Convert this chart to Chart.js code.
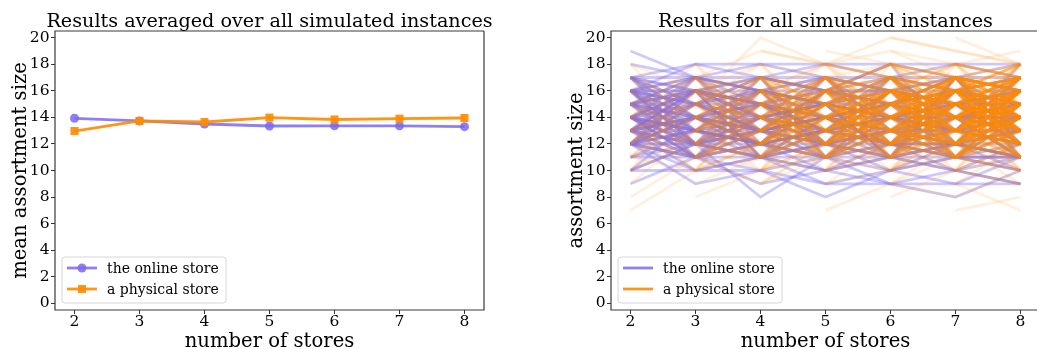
<!DOCTYPE html>
<html>
<head>
<meta charset="utf-8">
<script src="https://cdn.jsdelivr.net/npm/chart.js@4.4.1/dist/chart.umd.min.js"></script>
<style>
  html, body { margin: 0; padding: 0; background: #fff; overflow: hidden; }
  #wrap { position: relative; width: 1037px; height: 349px; overflow: hidden; }
  canvas { position: absolute; top: 0; }
  #left { left: 0; }
  #right { left: 530px; }
</style>
</head>
<body>
<div id="wrap">
  <canvas id="left" width="530" height="349"></canvas>
  <canvas id="right" width="530" height="349"></canvas>
</div>
<script>
/* ─── Data ───────────────────────────────────────────── */

const _ = null; // store not present for this number of stores

const storeCounts = [2, 3, 4, 5, 6, 7, 8];
const yTicks = [0, 2, 4, 6, 8, 10, 12, 14, 16, 18, 20];

// averaged results (left panel)
const meanOnline   = [13.93, 13.73, 13.50, 13.35, 13.36, 13.36, 13.30];
const meanPhysical = [12.97, 13.73, 13.65, 13.98, 13.84, 13.90, 13.95];

// every simulated instance (right panel), one row per instance
const onlineRuns = [
  [19, 17, 16, 15, 14, 13, 14], [17, 18, 18, 18, 18, 18, 18], [17, 16, 15, 16, 15, 16, 15], [17, 15, 13, 14, 13, 12, 11],
  [16, 17, 16, 15, 17, 16, 16], [16, 14, 13, 12, 11, 12, 11], [16, 16, 16, 16, 16, 16, 17], [16, 13, 12, 13, 14, 13, 12],
  [15, 14, 15, 13, 14, 15, 14], [15, 12, 11, 12, 13, 12, 13], [15, 17, 16, 17, 16, 15, 16], [14, 13, 14, 13, 12, 13, 13],
  [14, 15, 14, 15, 14, 14, 15], [14, 11, 12, 11, 12, 11, 11], [14, 16, 17, 16, 15, 17, 16], [13, 14, 13, 14, 13, 14, 14],
  [13, 12, 14, 12, 13, 13, 12], [13, 11, 10, 11, 10, 11, 10], [13, 15, 13, 14, 15, 14, 13], [12, 13, 12, 11, 12, 11, 12],
  [12, 10, 11, 10, 11, 10, 11], [12, 14, 15, 14, 13, 14, 14], [12, 11,  9, 10,  9, 10,  9], [12, 13, 12, 13, 12, 12, 13],
  [10, 10, 10,  9,  9,  9,  9], [10, 12, 11, 12, 10, 12, 11], [ 9, 11, 12, 13, 14, 13, 14], [17, 14, 12, 13, 12, 12, 13],
  [16, 12, 13, 14, 12, 14, 15], [15, 13, 12, 10, 11, 12, 10], [14, 12, 13, 12, 14, 13, 12], [13, 16, 14, 15, 16, 15, 14],
  [12, 15, 16, 15, 14, 16, 15], [17, 17, 17, 17, 17, 17, 17], [13, 13, 13, 13, 13, 13, 13], [14, 14, 14, 14, 14, 14, 14],
  [12, 12, 12, 12, 12, 12, 12], [16, 15, 17, 16, 17, 16, 17], [11, 12, 11,  9, 10,  9, 11], [15, 16, 14, 12, 11, 10, 12],
  [13, 10, 11, 10, 12, 10,  9], [14, 12,  8, 11,  9,  8, 10], [12,  9, 10,  8, 10, 11, 10], [18, 17, 16, 17, 16, 17, 18],
  [16, 18, 17, 16, 18, 17, 16], [15, 15, 15, 15, 15, 15, 15], [16, 16, 15, 16, 16, 15, 16], [13, 14, 15, 14, 13, 12, 11],
  [14, 13, 12, 13, 14, 15, 15], [12, 12, 13, 12, 11, 12, 11], [17, 16, 17, 18, 17, 18, 17], [15, 14, 13, 14, 15, 14, 15],
  [13, 12, 11, 12, 13, 14, 13], [14, 15, 16, 15, 16, 15, 14], [16, 17, 18, 17, 16, 17, 16], [12, 11, 12, 13, 12, 11, 11],
  [15, 16, 15, 14, 15, 16, 15], [11, 11, 11, 11, 11, 11, 11], [14, 13, 14, 15, 14, 13, 14], [10, 12, 14, 13, 12, 13, 12],
  [13, 14, 12, 11, 13, 12, 14], [16, 15, 14, 15, 14, 15, 13], [12, 14, 13, 14, 15, 14, 15], [17, 12, 15, 13, 16, 12, 14],
  [12, 16, 13, 17, 12, 15, 13], [14, 11, 16, 12, 15, 17, 12], [16, 12, 14, 17, 13, 11, 15], [13, 17, 12, 15, 11, 16, 14],
  [15, 11, 13, 16, 14, 12, 17], [14, 16, 11, 13, 17, 14, 11], [12, 15, 17, 12, 14, 16, 13], [16, 13, 11, 14, 12, 15, 16],
  [13, 16, 14, 11, 15, 13, 17], [15, 12, 16, 14, 11, 17, 12], [17, 14, 12, 16, 15, 11, 14], [12, 17, 15, 13, 16, 14, 11],
  [14, 12, 17, 11, 13, 16, 15], [16, 11, 15, 12, 17, 13, 16], [13, 15, 12, 17, 14, 11, 13], [15, 17, 14, 12, 16, 13, 18],
  [12, 14, 16, 15, 11, 17, 14], [14, 11, 13, 16, 18, 12, 15], [17, 13, 16, 11, 14, 15, 12], [13, 12, 15, 17, 13, 16, 11],
  [16, 14, 12, 15, 11, 14, 17], [12, 13, 16, 14, 17, 12, 16], [15, 16, 11, 13, 15, 17, 13], [14, 17, 13, 12, 16, 11, 15],
  [10, 14, 12, 16, 13, 15, 12], [13, 11, 14, 15, 12, 16, 14], [16, 15, 13, 11, 14, 12, 16], [12, 16, 11, 14, 15, 13, 17],
  [15, 13, 17, 16, 12, 14, 11], [11, 13, 15, 12, 16, 14, 13], [14, 16, 15, 13, 11, 15, 12], [13, 14, 11, 16, 15, 12, 16],
  [17, 15, 13, 14, 12, 16, 13], [12, 11, 14, 13, 16, 15, 12], [15, 14, 16, 12, 13, 11, 14], [14, 13, 12, 15, 17, 14, 16],
  [16, 12, 13, 16, 14, 13, 15], [13, 16, 15, 14, 12, 17, 11], [12, 14, 13, 11, 15, 16, 14],
];

const physicalRuns = [
  // stores present from 2 on
  [18, 16, 17, 15, 16, 17, 16], [ 7, 10, 12, 11, 13, 12, 14], [ 8, 11,  9, 12, 10, 13, 12], [11, 13, 15, 14, 16, 15, 17],
  [12, 14, 13, 16, 15, 14, 16], [13, 12, 14, 13, 15, 16, 15], [14, 16, 15, 17, 16, 14, 15], [15, 13, 16, 14, 17, 15, 16],
  [16, 17, 19, 18, 17, 16, 17], [10, 12, 11, 13, 12, 14, 13], [11, 14, 12, 15, 13, 12, 14], [13, 15, 17, 16, 18, 17, 16],
  [12, 11, 13, 12, 14, 13, 12], [17, 15, 14, 16, 15, 17, 18], [14, 12, 13, 15, 14, 16, 14], [15, 17, 14, 13, 16, 15, 17],
  [13, 14, 16, 15, 13, 14, 16], [12, 15, 14, 12, 14, 16, 13], [16, 14, 12, 14, 13, 15, 17], [11, 10, 12, 14, 15, 13, 15],
  [14, 15, 13, 14, 12, 13, 14], [10, 13, 14, 12, 13, 11, 13], [15, 16, 18, 17, 16, 18, 17], [13, 11, 12, 13, 11, 12, 10],
  [17, 12, 15, 11, 16, 13, 17], [12, 17, 13, 16, 11, 15, 12], [14, 10, 16, 12, 17, 11, 15], [16, 11, 14, 17, 12, 16, 11],
  [13, 17, 11, 15, 12, 17, 14], [11, 15, 17, 12, 16, 13, 16], [15, 11, 13, 17, 14, 11, 13], [10, 16, 12, 15, 17, 14, 16],
  [18, 13, 11, 14, 16, 12, 15], [12, 16, 15, 11, 14, 17, 13], [14, 18, 12, 16, 11, 15, 17], [13, 10, 15, 17, 13, 16, 12],
  [17, 14, 16, 12, 15, 11, 14], [ 9, 13, 16, 14, 11, 15, 13], [16, 12, 17, 13, 15, 12, 16], [11, 16, 13, 17, 12, 14, 11],
  [15, 12, 11, 16, 17, 13, 15], [12, 14, 17, 13, 16, 11, 16], [14, 17, 13, 11, 15, 16, 12], [13, 15, 12, 16, 14, 17, 15],
  // from 3 on
  [_,  8, 10, 12, 11, 13, 12], [_, 12, 14, 13, 15, 14, 16], [_, 13, 15, 14, 16, 15, 17], [_, 14, 13, 15, 14, 16, 15],
  [_, 15, 17, 16, 15, 17, 16], [_, 16, 14, 17, 16, 15, 14], [_, 17, 16, 18, 17, 16, 18], [_, 11, 13, 12, 14, 13, 15],
  [_, 10, 12, 14, 13, 15, 14], [_, 12, 11, 13, 15, 14, 13], [_, 14, 16, 15, 17, 16, 17], [_, 13, 12, 11, 13, 12, 11],
  [_, 15, 20, 18, 19, 18, 17], [_,  9, 11, 10, 12, 11, 13], [_, 16, 15, 14, 15, 17, 16], [_, 14, 15, 16, 14, 15, 13],
  [_, 13, 14, 12, 14, 16, 15], [_, 12, 13, 15, 16, 14, 16], [_, 15, 14, 13, 12, 14, 15], [_, 11, 12, 14, 13, 12, 14],
  [_, 17, 15, 16, 18, 16, 15], [_, 14, 12, 14, 15, 13, 16], [_, 10, 11, 13, 12, 10, 12], [_, 16, 17, 15, 16, 14, 17],
  [_, 13, 16, 14, 13, 15, 14], [_, 12, 10, 12, 14, 15, 13], [_, 17, 12, 16, 11, 15, 13], [_, 11, 16, 13, 17, 12, 15],
  [_, 16, 11, 14, 12, 17, 14], [_, 12, 17, 15, 13, 11, 16], [_, 15, 11, 17, 14, 16, 12], [_, 13, 17, 12, 16, 14, 11],
  [_, 14, 10, 16, 13, 17, 15], [_, 10, 15, 11, 16, 13, 17], [_, 16, 13, 11, 15, 12, 16], [_, 12, 16, 14, 11, 17, 13],
  [_, 17, 14, 12, 16, 15, 11], [_, 11, 14, 17, 12, 13, 16], [_, 15, 12, 16, 17, 11, 14], [_, 13, 16, 11, 14, 16, 12],
  [_, 14, 17, 13, 12, 15, 17], [_, 16, 12, 15, 13, 11, 15], [_, 18, 14, 16, 12, 17, 13], [_, 12, 15, 17, 14, 12, 16],
  [_, 15, 18, 13, 16, 14, 12], [_, 11, 13, 16, 15, 17, 14], [_, 14, 11, 15, 17, 13, 16], [_, 13, 15, 12, 16, 14, 17],
  // from 4 on
  [_, _, 19, 18, 20, 19, 18], [_, _, 14, 16, 15, 17, 16], [_, _, 13, 15, 14, 16, 17], [_, _, 15, 14, 16, 15, 14],
  [_, _, 16, 17, 15, 16, 15], [_, _, 12, 14, 13, 15, 14], [_, _, 11, 13, 12, 14, 13], [_, _, 17, 16, 18, 17, 16],
  [_, _, 10, 12, 11, 13, 12], [_, _, 14, 13, 15, 14, 16], [_, _, 13, 12, 14, 16, 15], [_, _, 15, 16, 17, 15, 17],
  [_, _, 16, 15, 13, 14, 13], [_, _, 12, 11, 10, 12, 11], [_, _,  9, 11, 13, 12, 14], [_, _, 14, 15, 16, 18, 17],
  [_, _, 15, 13, 14, 13, 15], [_, _, 13, 14, 16, 15, 16], [_, _, 14, 12, 13, 15, 14], [_, _, 16, 14, 15, 17, 16],
  [_, _, 12, 13, 15, 14, 13], [_, _, 17, 15, 14, 16, 18], [_, _, 11, 12, 14, 13, 15], [_, _, 15, 17, 16, 14, 15],
  [_, _, 13, 15, 13, 12, 14], [_, _, 14, 16, 14, 15, 17], [_, _, 10, 11, 12, 11, 10], [_, _, 16, 18, 17, 16, 17],
  [_, _, 12, 15, 14, 16, 13], [_, _, 15, 14, 12, 13, 16], [_, _, 17, 12, 16, 11, 15], [_, _, 11, 16, 13, 17, 12],
  [_, _, 16, 11, 14, 16, 13], [_, _, 12, 17, 15, 12, 16], [_, _, 15, 11, 17, 14, 11], [_, _, 13, 17, 12, 15, 16],
  [_, _, 14, 10, 16, 13, 17], [_, _, 10, 15, 12, 16, 14], [_, _, 16, 13, 11, 15, 17], [_, _, 12, 16, 14, 11, 15],
  [_, _, 17, 14, 12, 16, 13], [_, _, 11, 14, 17, 13, 12], [_, _, 15, 12, 16, 17, 11], [_, _, 13, 16, 11, 14, 17],
  [_, _, 14, 17, 13, 12, 16], [_, _, 16, 12, 15, 13, 11], [_, _, 18, 14, 16, 12, 15], [_, _, 12, 15, 17, 14, 12],
  [_, _, 15, 18, 13, 16, 14], [_, _, 11, 13, 16, 15, 17], [_, _, 14, 11, 15, 17, 13], [_, _, 13, 15, 12, 16, 14],
  [_, _, 17, 13, 14, 11, 16], [_, _, 10, 14, 16, 12, 15], [_, _, 16, 11, 13, 17, 12], [_, _,  9, 12, 15, 14, 16],
  // from 5 on
  [_, _, _, 19, 18, 17, 16], [_, _, _, 16, 18, 17, 15], [_, _, _, 15, 17, 16, 18], [_, _, _, 14, 16, 15, 17],
  [_, _, _, 17, 15, 16, 14], [_, _, _, 13, 15, 14, 16], [_, _, _, 12, 14, 13, 15], [_, _, _, 16, 14, 17, 16],
  [_, _, _, 15, 13, 14, 12], [_, _, _, 11, 13, 12, 14], [_, _, _, 14, 12, 15, 13], [_, _, _, 13, 14, 16, 17],
  [_, _, _,  7,  9,  8, 10], [_, _, _, 10, 12, 11, 13], [_, _, _, 18, 17, 18, 17], [_, _, _, 12, 11, 13, 12],
  [_, _, _, 17, 16, 14, 15], [_, _, _, 14, 15, 13, 14], [_, _, _, 15, 16, 14, 15], [_, _, _, 13, 12, 14, 16],
  [_, _, _, 16, 15, 16, 17], [_, _, _, 12, 13, 15, 14], [_, _, _, 14, 13, 12, 13], [_, _, _, 15, 14, 16, 15],
  [_, _, _, 11, 12, 14, 16], [_, _, _, 16, 17, 15, 14], [_, _, _, 13, 16, 15, 13], [_, _, _, 14, 14, 17, 16],
  [_, _, _,  9, 10, 12, 11], [_, _, _, 17, 18, 16, 17], [_, _, _, 12, 15, 16, 15], [_, _, _, 15, 12, 13, 14],
  [_, _, _, 13, 13, 14, 18], [_, _, _, 10, 11, 10,  9], [_, _, _, 17, 12, 16, 11], [_, _, _, 11, 16, 13, 17],
  [_, _, _, 16, 11, 14, 16], [_, _, _, 12, 17, 15, 12], [_, _, _, 15, 11, 17, 14], [_, _, _, 13, 17, 12, 15],
  [_, _, _, 14, 10, 16, 13], [_, _, _, 10, 15, 12, 16], [_, _, _, 16, 13, 11, 15], [_, _, _, 12, 16, 14, 11],
  [_, _, _, 17, 14, 12, 16], [_, _, _, 11, 14, 17, 13], [_, _, _, 15, 12, 16, 17], [_, _, _, 13, 16, 11, 14],
  [_, _, _, 14, 17, 13, 12], [_, _, _, 16, 12, 15, 13], [_, _, _, 18, 14, 16, 12], [_, _, _, 12, 15, 17, 14],
  [_, _, _, 15, 18, 13, 16], [_, _, _, 11, 13, 16, 15], [_, _, _, 14, 11, 15, 17], [_, _, _, 13, 15, 12, 16],
  [_, _, _, 17, 13, 14, 11], [_, _, _, 10, 14, 16, 12], [_, _, _, 16, 11, 13, 17], [_, _, _,  9, 12, 15, 14],
  [_, _, _, 18, 15, 12, 17], [_, _, _, 12, 18, 14, 16], [_, _, _, 15, 13, 17, 11], [_, _, _, 14, 16, 12, 18],
  // from 6 on
  [_, _, _, _, 20, 19, 18], [_, _, _, _, 19, 17, 16], [_, _, _, _, 17, 16, 18], [_, _, _, _, 16, 18, 17],
  [_, _, _, _, 15, 17, 16], [_, _, _, _, 14, 16, 15], [_, _, _, _, 13, 15, 14], [_, _, _, _, 12, 14, 16],
  [_, _, _, _, 16, 15, 14], [_, _, _, _, 15, 14, 17], [_, _, _, _, 14, 13, 12], [_, _, _, _, 13, 12, 13],
  [_, _, _, _, 11, 13, 15], [_, _, _, _,  8, 10,  9], [_, _, _, _, 10, 11, 12], [_, _, _, _, 17, 15, 16],
  [_, _, _, _, 12, 13, 11], [_, _, _, _, 18, 16, 17], [_, _, _, _, 14, 15, 13], [_, _, _, _, 15, 16, 15],
  [_, _, _, _, 16, 14, 13], [_, _, _, _, 13, 14, 16], [_, _, _, _, 14, 17, 15], [_, _, _, _, 12, 12, 14],
  [_, _, _, _, 15, 13, 16], [_, _, _, _, 17, 17, 15], [_, _, _, _, 11, 12, 13], [_, _, _, _, 16, 16, 18],
  [_, _, _, _, 13, 16, 14], [_, _, _, _, 14, 14, 13], [_, _, _, _, 10, 13, 12], [_, _, _, _, 15, 15, 17],
  [_, _, _, _, 12, 11, 10], [_, _, _, _, 16, 13, 15], [_, _, _, _, 18, 17, 16], [_, _, _, _, 13, 13, 15],
  [_, _, _, _,  9, 11, 10], [_, _, _, _, 14, 12, 14], [_, _, _, _, 17, 12, 16], [_, _, _, _, 11, 16, 13],
  [_, _, _, _, 16, 11, 14], [_, _, _, _, 12, 17, 15], [_, _, _, _, 15, 11, 17], [_, _, _, _, 13, 17, 12],
  [_, _, _, _, 14, 10, 16], [_, _, _, _, 10, 15, 12], [_, _, _, _, 16, 13, 11], [_, _, _, _, 12, 16, 14],
  [_, _, _, _, 17, 14, 12], [_, _, _, _, 11, 14, 17], [_, _, _, _, 15, 12, 16], [_, _, _, _, 13, 16, 11],
  [_, _, _, _, 14, 17, 13], [_, _, _, _, 16, 12, 15], [_, _, _, _, 18, 14, 16], [_, _, _, _, 12, 15, 17],
  [_, _, _, _, 15, 18, 13], [_, _, _, _, 11, 13, 16], [_, _, _, _, 14, 11, 15], [_, _, _, _, 13, 15, 12],
  [_, _, _, _, 17, 13, 14], [_, _, _, _, 10, 14, 16], [_, _, _, _, 16, 11, 13], [_, _, _, _,  9, 12, 15],
  [_, _, _, _, 18, 15, 12], [_, _, _, _, 12, 18, 14], [_, _, _, _, 15, 13, 17], [_, _, _, _, 14, 16, 12],
  [_, _, _, _, 13, 11, 14], [_, _, _, _, 17, 16, 11], [_, _, _, _, 11, 17, 15], [_, _, _, _, 16, 14, 18],
  // from 7 on
  [_, _, _, _, _, 20, 18], [_, _, _, _, _, 18, 19], [_, _, _, _, _, 17, 16], [_, _, _, _, _, 16, 17],
  [_, _, _, _, _, 15, 16], [_, _, _, _, _, 14, 15], [_, _, _, _, _, 13, 14], [_, _, _, _, _, 12, 13],
  [_, _, _, _, _, 11, 12], [_, _, _, _, _, 16, 14], [_, _, _, _, _, 15, 13], [_, _, _, _, _, 14, 16],
  [_, _, _, _, _, 13, 15], [_, _, _, _, _, 12, 14], [_, _, _, _, _, 17, 15], [_, _, _, _, _,  7,  8],
  [_, _, _, _, _,  9,  7], [_, _, _, _, _, 10, 11], [_, _, _, _, _, 14, 17], [_, _, _, _, _, 13, 12],
  [_, _, _, _, _, 15, 18], [_, _, _, _, _, 16, 15], [_, _, _, _, _, 14, 14], [_, _, _, _, _, 15, 15],
  [_, _, _, _, _, 13, 13], [_, _, _, _, _, 16, 16], [_, _, _, _, _, 12, 12], [_, _, _, _, _, 17, 17],
  [_, _, _, _, _, 11, 13], [_, _, _, _, _, 15, 14], [_, _, _, _, _, 14, 13], [_, _, _, _, _, 16, 18],
  [_, _, _, _, _, 13, 16], [_, _, _, _, _, 12, 11], [_, _, _, _, _, 17, 18], [_, _, _, _, _, 10, 12],
  [_, _, _, _, _, 15, 17], [_, _, _, _, _, 14, 12], [_, _, _, _, _, 16, 13], [_, _, _, _, _, 13, 11],
  [_, _, _, _, _, 18, 17], [_, _, _, _, _, 12, 15], [_, _, _, _, _, 17, 12], [_, _, _, _, _, 11, 16],
  [_, _, _, _, _, 16, 11], [_, _, _, _, _, 12, 17], [_, _, _, _, _, 15, 11], [_, _, _, _, _, 13, 17],
  [_, _, _, _, _, 14, 10], [_, _, _, _, _, 10, 15], [_, _, _, _, _, 16, 12], [_, _, _, _, _, 12, 16],
  [_, _, _, _, _, 17, 14], [_, _, _, _, _, 11, 14], [_, _, _, _, _, 15, 12], [_, _, _, _, _, 13, 16],
  [_, _, _, _, _, 14, 18], [_, _, _, _, _, 18, 14], [_, _, _, _, _, 12, 18], [_, _, _, _, _, 15, 10],
  [_, _, _, _, _, 11, 17], [_, _, _, _, _, 16, 18], [_, _, _, _, _, 13, 10], [_, _, _, _, _, 17, 13],
  [_, _, _, _, _, 10, 14], [_, _, _, _, _,  9, 12], [_, _, _, _, _, 18, 15], [_, _, _, _, _, 12,  9],
  [_, _, _, _, _, 14, 11], [_, _, _, _, _, 17, 16], [_, _, _, _, _, 11, 15], [_, _, _, _, _, 16, 10],
];

/* ─── Styling ────────────────────────────────────────── */

const FONT = '"DejaVu Serif", serif';
const PURPLE = 'rgba(123,104,238,0.85)';
const ORANGE = 'rgba(255,140,0,0.92)';
const PURPLE_FAINT = 'rgba(123,104,238,0.36)';
const ORANGE_FAINT = 'rgba(255,140,0,0.13)';

function points(row) {
  return storeCounts.map((x, i) => ({ x, y: row[i] }));
}

function roundRect(ctx, x, y, w, h, r) {
  ctx.beginPath();
  ctx.moveTo(x + r, y);
  ctx.lineTo(x + w - r, y);
  ctx.arcTo(x + w, y, x + w, y + r, r);
  ctx.lineTo(x + w, y + h - r);
  ctx.arcTo(x + w, y + h, x + w - r, y + h, r);
  ctx.lineTo(x + r, y + h);
  ctx.arcTo(x, y + h, x, y + h - r, r);
  ctx.lineTo(x, y + r);
  ctx.arcTo(x, y, x + r, y, r);
  ctx.closePath();
}

// titles, spines and legend, drawn the matplotlib way
const decor = {
  id: 'decor',
  afterDraw(chart, args, o) {
    const { ctx, chartArea: a } = chart;
    const cx = (a.left + a.right) / 2;
    ctx.save();

    // spines
    ctx.strokeStyle = '#3a3a3a';
    ctx.lineWidth = 1.2;
    ctx.beginPath();
    ctx.moveTo(a.right, a.top);
    ctx.lineTo(a.left, a.top);
    ctx.lineTo(a.left, a.bottom);
    ctx.lineTo(a.right, a.bottom);
    if (o.rightSpine) ctx.lineTo(a.right, a.top);
    ctx.stroke();

    ctx.fillStyle = '#000';
    ctx.textAlign = 'center';
    ctx.textBaseline = 'alphabetic';

    ctx.font = '19.2px ' + FONT;
    ctx.fillText(o.title, cx, 26.5);

    ctx.font = '19.6px ' + FONT;
    ctx.fillText(o.xLabel, cx, 346.5);

    ctx.save();
    ctx.translate(o.yLabelX, (a.top + a.bottom) / 2);
    ctx.rotate(-Math.PI / 2);
    ctx.fillText(o.yLabel, 0, 0);
    ctx.restore();

    // legend
    const bx = a.left + 7, by = a.bottom - 53, bw = 164, bh = 46;
    roundRect(ctx, bx, by, bw, bh, 3);
    ctx.fillStyle = 'rgba(255,255,255,0.85)';
    ctx.fill();
    ctx.strokeStyle = '#d6d6d6';
    ctx.lineWidth = 1;
    ctx.stroke();

    ctx.font = '14px ' + FONT;
    ctx.textAlign = 'left';
    ctx.textBaseline = 'middle';
    o.legend.forEach((it, i) => {
      const y = by + 11 + i * 21;
      ctx.strokeStyle = it.color;
      ctx.lineWidth = 2.8;
      ctx.beginPath();
      ctx.moveTo(bx + 5, y);
      ctx.lineTo(bx + 35, y);
      ctx.stroke();
      ctx.fillStyle = it.color;
      if (it.marker === 'circle') {
        ctx.beginPath();
        ctx.arc(bx + 20, y, 4.5, 0, Math.PI * 2);
        ctx.fill();
      } else if (it.marker === 'rect') {
        ctx.fillRect(bx + 16, y - 4, 8, 8);
      }
      ctx.fillStyle = '#000';
      ctx.fillText(it.text, bx + 45, y + 1);
    });

    ctx.restore();
  }
};

function axes(yWidth) {
  const tickFont = { family: FONT, size: 15.5, lineHeight: 1 };
  return {
    x: {
      type: 'linear', min: 1.7, max: 8.3,
      afterBuildTicks: s => { s.ticks = storeCounts.map(v => ({ value: v })); },
      afterFit: s => { s.height = 39; },
      grid: { drawOnChartArea: false, drawTicks: true, tickLength: 4, color: '#333' },
      border: { display: false },
      ticks: { font: tickFont, color: '#000', padding: 0, maxRotation: 0 }
    },
    y: {
      type: 'linear', min: -0.5, max: 20.5,
      afterBuildTicks: s => { s.ticks = yTicks.map(v => ({ value: v })); },
      afterFit: s => { s.width = yWidth; },
      grid: { drawOnChartArea: false, drawTicks: true, tickLength: 4, color: '#333' },
      border: { display: false },
      ticks: { font: tickFont, color: '#000', padding: 1.5 }
    }
  };
}

const common = {
  responsive: false,
  animation: false,
  events: [],
  plugins: { legend: { display: false }, tooltip: { enabled: false }, title: { display: false } }
};

/* ─── Left: averaged ─────────────────────────────────── */

new Chart(document.getElementById('left'), {
  type: 'line',
  data: {
    datasets: [
      {
        data: points(meanOnline), order: 1,
        borderColor: PURPLE, backgroundColor: PURPLE, borderWidth: 2.8,
        pointStyle: 'circle', pointRadius: 4.5, pointBorderWidth: 0
      },
      {
        data: points(meanPhysical), order: 0,
        borderColor: ORANGE, backgroundColor: ORANGE, borderWidth: 2.8,
        pointStyle: 'rect', pointRadius: 5.7, pointBorderWidth: 0
      }
    ]
  },
  options: {
    ...common,
    layout: { padding: { left: 0, top: 31, right: 46, bottom: 0 } },
    scales: axes(55),
    plugins: {
      ...common.plugins,
      decor: {
        title: 'Results averaged over all simulated instances',
        xLabel: 'number of stores',
        yLabel: 'mean assortment size',
        yLabelX: 26,
        rightSpine: true,
        legend: [
          { text: 'the online store', color: PURPLE, marker: 'circle' },
          { text: 'a physical store', color: ORANGE, marker: 'rect' }
        ]
      }
    }
  },
  plugins: [decor]
});

/* ─── Right: every instance ──────────────────────────── */

// faint orange cloud is laid over the online runs
const runSets = [
  ...physicalRuns.map(r => ({ data: points(r), order: 0, borderColor: ORANGE_FAINT })),
  ...onlineRuns.map(r => ({ data: points(r), order: 1, borderColor: PURPLE_FAINT }))
].map(d => ({ ...d, borderWidth: 2.8, pointRadius: 0, spanGaps: false }));

new Chart(document.getElementById('right'), {
  type: 'line',
  data: { datasets: runSets },
  options: {
    ...common,
    layout: { padding: { left: 0, top: 31, right: 20, bottom: 0 } },
    scales: axes(81),
    plugins: {
      ...common.plugins,
      decor: {
        title: 'Results for all simulated instances',
        xLabel: 'number of stores',
        yLabel: 'assortment size',
        yLabelX: 51.5,
        rightSpine: false,
        legend: [
          { text: 'the online store', color: PURPLE },
          { text: 'a physical store', color: ORANGE }
        ]
      }
    }
  },
  plugins: [decor]
});
</script>
</body>
</html>
